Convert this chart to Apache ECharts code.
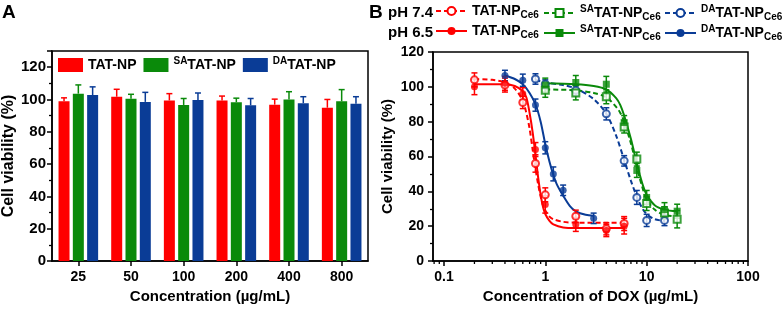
<!DOCTYPE html>
<html><head><meta charset="utf-8">
<script src="https://cdn.jsdelivr.net/npm/echarts@6/dist/echarts.min.js"></script>
<style>html,body{margin:0;padding:0;background:#fff}#c{width:782px;height:309px}</style>
</head><body><div id="c"></div>
<script>
// ---------- Panel A data ----------
const concA = ['25', '50', '100', '200', '400', '800'];
const tatA = [98.9, 101.7, 99.4, 99.4, 96.8, 94.9];
const tatAErr = [2.1, 4.6, 4.2, 2.7, 3.4, 5.1];
const saA = [103.6, 100.4, 96.6, 98.3, 100.0, 98.9];
const saAErr = [5.4, 2.8, 4.0, 2.5, 4.8, 7.2];
const daA = [102.7, 98.5, 99.6, 96.4, 97.7, 97.3];
const daAErr = [5.1, 5.9, 4.4, 4.2, 4.0, 4.4];
const yTicksA = [0, 20, 40, 60, 80, 100, 120];

// ---------- Panel B data (measured points) ----------
const tatX = [0.2, 0.4, 0.6, 0.8, 1, 2, 4, 6];
const tat74 = [104, 101, 91, 56, 38, 25.7, 18.5, 21.5];
const tat74Err = [4, 4, 3.5, 5, 4, 3.5, 3.5, 4];
const tat65 = [100, 102, 96, 64, 32.5, 21, 17.5, 20];
const tat65Err = [4.5, 4, 3.5, 4, 5, 4, 3.5, 4.5];
const saX = [1, 2, 4, 6, 8, 10, 15, 20];
const sa74 = [98, 96.5, 94.3, 77, 58.5, 33, 27.6, 24];
const sa74Err = [4, 4, 4, 3.5, 4, 4, 3.5, 5];
const sa65 = [101, 102.5, 101.5, 79.5, 52, 36.5, 29.5, 28.6];
const sa65Err = [4, 4, 4.5, 4, 4, 4, 4, 4];
const da74X = [0.8, 1, 2, 4, 6, 8, 10, 15];
const da74 = [104.5, 101.5, 98, 84.5, 57.5, 36.5, 23.3, 23.3];
const da74Err = [3, 2.5, 3, 3.5, 3, 4, 3.5, 3];
const da65X = [0.4, 0.6, 0.8, 1, 1.2, 1.5, 3];
const da65 = [106.5, 103.8, 89.5, 65, 50, 40.6, 24.5];
const da65Err = [3, 3.5, 3.5, 3.5, 4, 3, 3];

// ---------- Panel B fitted curves ----------
const fitTat74X = [0.2, 0.3, 0.4, 0.5, 0.6, 0.65, 0.7, 0.75, 0.8, 0.85, 0.9, 0.95, 1, 1.1, 1.2, 1.5, 2, 4, 6];
const fitTat74 = [104.5, 104, 102.5, 99, 92, 85, 76, 64, 53, 44, 37, 32, 29, 25.5, 24, 22.5, 22, 22, 22];
const fitTat65X = [0.2, 0.4, 0.5, 0.6, 0.65, 0.7, 0.75, 0.8, 0.85, 0.9, 0.95, 1, 1.1, 1.2, 1.5, 2, 4, 6];
const fitTat65 = [101.5, 101.5, 100.5, 97.5, 94, 85, 74, 61, 48, 38, 31, 27, 23, 21, 19.3, 19, 19, 19];
const fitSaX = [1, 2, 3, 4, 5, 5.5, 6, 7, 8, 9, 10, 12, 15, 20];
const fitSa74 = [98.5, 98, 96.5, 94, 88.5, 85, 80, 67.5, 54, 43, 35.5, 29.5, 26.5, 25.5];
const fitSa65 = [102, 101.5, 100.5, 98.5, 93.5, 89.5, 83.5, 70, 56, 45, 38, 32, 29.5, 28.5];
const fitDa74X = [0.8, 1, 1.5, 2, 3, 4, 5, 6, 7, 8, 9, 10, 12, 15];
const fitDa74 = [104, 102.5, 101, 99, 93, 84.5, 72, 58, 46, 37, 30.5, 27, 24, 23];
const fitDa65X = [0.4, 0.5, 0.6, 0.7, 0.8, 0.9, 1, 1.1, 1.2, 1.3, 1.5, 1.75, 2, 2.5, 3];
const fitDa65 = [106.5, 104.5, 101.5, 96.5, 90, 80, 67, 57, 49.5, 44, 37.5, 31.5, 28.5, 26.5, 26];

const xTickLabelsB = [0.1, 1, 10, 100];
const xMinorTicksB = [0.08, 0.09, 0.2, 0.3, 0.4, 0.5, 0.6, 0.7, 0.8, 0.9, 2, 3, 4, 5, 6, 7, 8, 9, 20, 30, 40, 50, 60, 70, 80, 90];

// ---------- styles ----------
const RED = '#ff0000', GREEN = '#0a8a0a', BLUE = '#0a3c96';
const FONT = 'Liberation Sans, Arial, sans-serif';
const zip = (xs, ys) => xs.map((x, i) => [x, ys[i]]);
const zip3 = (xs, ys, es) => xs.map((x, i) => [x, ys[i], es[i]]);

const rich = {
  m: { fontSize: 14, fontWeight: 'bold', fontFamily: FONT, color: '#000', lineHeight: 18 },
  sup: { fontSize: 10, fontWeight: 'bold', fontFamily: FONT, color: '#000', lineHeight: 10, verticalAlign: 'top' },
  sub: { fontSize: 10, fontWeight: 'bold', fontFamily: FONT, color: '#000', lineHeight: 10, verticalAlign: 'bottom' }
};
const legendText = {
  'TAT-NP': '{m|TAT-NP}', 'SATAT-NP': '{sup|SA}{m|TAT-NP}', 'DATAT-NP': '{sup|DA}{m|TAT-NP}',
  TAT74: '{m|TAT-NP}{sub|Ce6}', SA74: '{sup|SA}{m|TAT-NP}{sub|Ce6}', DA74: '{sup|DA}{m|TAT-NP}{sub|Ce6}',
  TAT65: '{m|TAT-NP}{sub|Ce6}', SA65: '{sup|SA}{m|TAT-NP}{sub|Ce6}', DA65: '{sup|DA}{m|TAT-NP}{sub|Ce6}'
};
const fmt = n => legendText[n];

// ---------- error bar renderers ----------
const BW = 11, BG = 3.3;
function errA(offset) {
  return function (params, api) {
    const top = api.coord([api.value(0), api.value(1) + api.value(2)]);
    const base = api.coord([api.value(0), api.value(1)]);
    const x = top[0] + offset, c = api.visual('color');
    return { type: 'group', children: [
      { type: 'line', shape: { x1: x, y1: base[1], x2: x, y2: top[1] }, style: { stroke: c, lineWidth: 1.5 } },
      { type: 'line', shape: { x1: x - 3, y1: top[1], x2: x + 3, y2: top[1] }, style: { stroke: c, lineWidth: 1.5 } }
    ] };
  };
}
function errB(params, api) {
  const x = api.value(0), y = api.value(1), e = api.value(2);
  const hi = api.coord([x, y + e]), lo = api.coord([x, y - e]);
  const c = api.visual('color'), w = 3;
  const st = { stroke: c, lineWidth: 1.5 };
  return { type: 'group', children: [
    { type: 'line', shape: { x1: hi[0], y1: hi[1], x2: lo[0], y2: lo[1] }, style: st },
    { type: 'line', shape: { x1: hi[0] - w, y1: hi[1], x2: hi[0] + w, y2: hi[1] }, style: st },
    { type: 'line', shape: { x1: lo[0] - w, y1: lo[1], x2: lo[0] + w, y2: lo[1] }, style: st }
  ] };
}
function minorTickB(params, api) {
  const p = api.coord([api.value(0), 0]);
  return { type: 'line', shape: { x1: p[0], y1: p[1], x2: p[0], y2: p[1] + 3 }, style: { stroke: '#000', lineWidth: 1.3 } };
}

const axisLine = { show: true, onZero: false, lineStyle: { color: '#000', width: 1.5 } };
const axisTick = { show: true, length: 5, lineStyle: { color: '#000', width: 1.5 } };
const minorTick = { show: true, splitNumber: 2, length: 3, lineStyle: { color: '#000', width: 1.3 } };
const lbl = (size, margin) => ({ color: '#000', fontWeight: 'bold', fontFamily: FONT, fontSize: size, margin: margin });
const nameStyle = size => ({ color: '#000', fontWeight: 'bold', fontFamily: FONT, fontSize: size });

function barSeries(name, vals, color) {
  return { name: name, type: 'bar', xAxisIndex: 0, yAxisIndex: 0, data: vals, barWidth: BW, barGap: '30%',
    itemStyle: { color: color }, z: 2 };
}
function barErr(vals, errs, color, offset) {
  return { name: 'errA' + offset, type: 'custom', xAxisIndex: 0, yAxisIndex: 0, renderItem: errA(offset),
    itemStyle: { color: color }, encode: { x: 0, y: 1 }, z: 3,
    data: vals.map((v, i) => [i, v, errs[i]]) };
}
function curve(name, xs, ys, color, dashed, symbol) {
  return { name: name, type: 'line', xAxisIndex: 1, yAxisIndex: 1, data: zip(xs, ys), smooth: 0.3,
    symbol: symbol, showSymbol: false, symbolSize: 7, color: color,
    lineStyle: { color: color, width: 2, type: dashed ? [5, 3] : 'solid' }, itemStyle: { color: color }, z: 2 };
}
function pts(name, xs, ys, color, symbol) {
  return { name: name, type: 'scatter', xAxisIndex: 1, yAxisIndex: 1, data: zip(xs, ys),
    symbol: symbol, symbolSize: 7, itemStyle: { color: color, borderWidth: 0 }, z: 5 };
}
function ptsErr(name, xs, ys, es, color) {
  return { name: name, type: 'custom', xAxisIndex: 1, yAxisIndex: 1, renderItem: errB,
    itemStyle: { color: color }, encode: { x: 0, y: 1 }, data: zip3(xs, ys, es), z: 4 };
}
function legB(name, left, top) {
  return { data: [name], left: left, top: top, padding: 0, itemWidth: 31, itemHeight: 10, selectedMode: false,
    formatter: fmt, textStyle: { rich: rich } };
}

const chart = echarts.init(document.getElementById('c'), null, { renderer: 'canvas' });
chart.setOption({
  animation: false,
  backgroundColor: '#fff',
  textStyle: { fontFamily: FONT },
  graphic: [
    { type: 'text', left: 2, top: 3, style: { text: 'A', font: 'bold 19px Liberation Sans', fill: '#000' } },
    { type: 'text', left: 369, top: 3, style: { text: 'B', font: 'bold 19px Liberation Sans', fill: '#000' } },
    { type: 'text', left: 388, top: 5, style: { text: 'pH 7.4', font: 'bold 15px Liberation Sans', fill: '#000' } },
    { type: 'text', left: 388, top: 25, style: { text: 'pH 6.5', font: 'bold 15px Liberation Sans', fill: '#000' } }
  ],
  legend: [
    { data: ['TAT-NP', 'SATAT-NP', 'DATAT-NP'], left: 58, top: 56, padding: 0, itemWidth: 25, itemHeight: 14,
      itemGap: 7, icon: 'rect', selectedMode: false, formatter: fmt, textStyle: { rich: rich } },
    legB('TAT74', 435, 4), legB('SA74', 543, 4), legB('DA74', 664, 4),
    legB('TAT65', 435, 24), legB('SA65', 543, 24), legB('DA65', 664, 24)
  ],
  grid: [
    { left: 52, top: 51, width: 316, height: 210, show: true, borderColor: '#000', borderWidth: 1.5, containLabel: false },
    { left: 433, top: 52, width: 315, height: 210, show: true, borderColor: '#000', borderWidth: 1.5, containLabel: false }
  ],
  xAxis: [
    { type: 'category', gridIndex: 0, data: concA, axisLine: axisLine,
      axisTick: Object.assign({ alignWithLabel: true }, axisTick), axisLabel: lbl(14, 9),
      name: 'Concentration (µg/mL)', nameLocation: 'middle', nameGap: 28, nameTextStyle: nameStyle(15),
      splitLine: { show: false } },
    { type: 'log', logBase: 10, gridIndex: 1, min: 0.078, max: 100, axisLine: axisLine, axisTick: axisTick,
      axisLabel: Object.assign(lbl(14, 9), { showMinLabel: false,
        formatter: v => { const r = xTickLabelsB.find(t => Math.abs(t - v) / t < 1e-6); return r === undefined ? '' : String(r); } }),
      name: 'Concentration of DOX (µg/mL)', nameLocation: 'middle', nameGap: 28, nameTextStyle: nameStyle(15),
      splitLine: { show: false }, minorTick: { show: false } }
  ],
  yAxis: [
    { type: 'value', gridIndex: 0, min: 0, max: 130, interval: 20, axisLine: axisLine, axisTick: axisTick,
      minorTick: minorTick, axisLabel: Object.assign(lbl(15, 6), { showMaxLabel: false,
        formatter: v => yTicksA.indexOf(v) >= 0 ? String(v) : '' }),
      splitLine: { show: false },
      name: 'Cell viability (%)', nameLocation: 'middle', nameGap: 34, nameTextStyle: nameStyle(16) },
    { type: 'value', gridIndex: 1, min: 0, max: 120, interval: 20, axisLine: axisLine, axisTick: axisTick,
      minorTick: minorTick, axisLabel: lbl(14, 9), splitLine: { show: false },
      name: 'Cell viability (%)', nameLocation: 'middle', nameGap: 38, nameTextStyle: nameStyle(15) }
  ],
  series: [
    barSeries('TAT-NP', tatA, RED), barSeries('SATAT-NP', saA, GREEN), barSeries('DATAT-NP', daA, BLUE),
    barErr(tatA, tatAErr, RED, -(BW + BG)), barErr(saA, saAErr, GREEN, 0), barErr(daA, daAErr, BLUE, BW + BG),

    curve('TAT74', fitTat74X, fitTat74, RED, true, 'emptyCircle'),
    curve('SA74', fitSaX, fitSa74, GREEN, true, 'emptyRect'),
    curve('DA74', fitDa74X, fitDa74, BLUE, true, 'emptyCircle'),
    curve('TAT65', fitTat65X, fitTat65, RED, false, 'circle'),
    curve('SA65', fitSaX, fitSa65, GREEN, false, 'rect'),
    curve('DA65', fitDa65X, fitDa65, BLUE, false, 'circle'),

    ptsErr('eDA74', da74X, da74, da74Err, BLUE), ptsErr('eDA65', da65X, da65, da65Err, BLUE),
    ptsErr('eTAT74', tatX, tat74, tat74Err, RED), ptsErr('eTAT65', tatX, tat65, tat65Err, RED),
    ptsErr('eSA74', saX, sa74, sa74Err, GREEN), ptsErr('eSA65', saX, sa65, sa65Err, GREEN),

    pts('pDA74', da74X, da74, BLUE, 'emptyCircle'), pts('pDA65', da65X, da65, BLUE, 'circle'),
    pts('pTAT74', tatX, tat74, RED, 'emptyCircle'), pts('pTAT65', tatX, tat65, RED, 'circle'),
    pts('pSA74', saX, sa74, GREEN, 'emptyRect'), pts('pSA65', saX, sa65, GREEN, 'rect'),

    { name: 'minorX', type: 'custom', xAxisIndex: 1, yAxisIndex: 1, renderItem: minorTickB, silent: true,
      encode: { x: 0, y: 1 }, data: xMinorTicksB.map(v => [v, 0]), z: 6 }
  ]
});
</script>
</body></html>
